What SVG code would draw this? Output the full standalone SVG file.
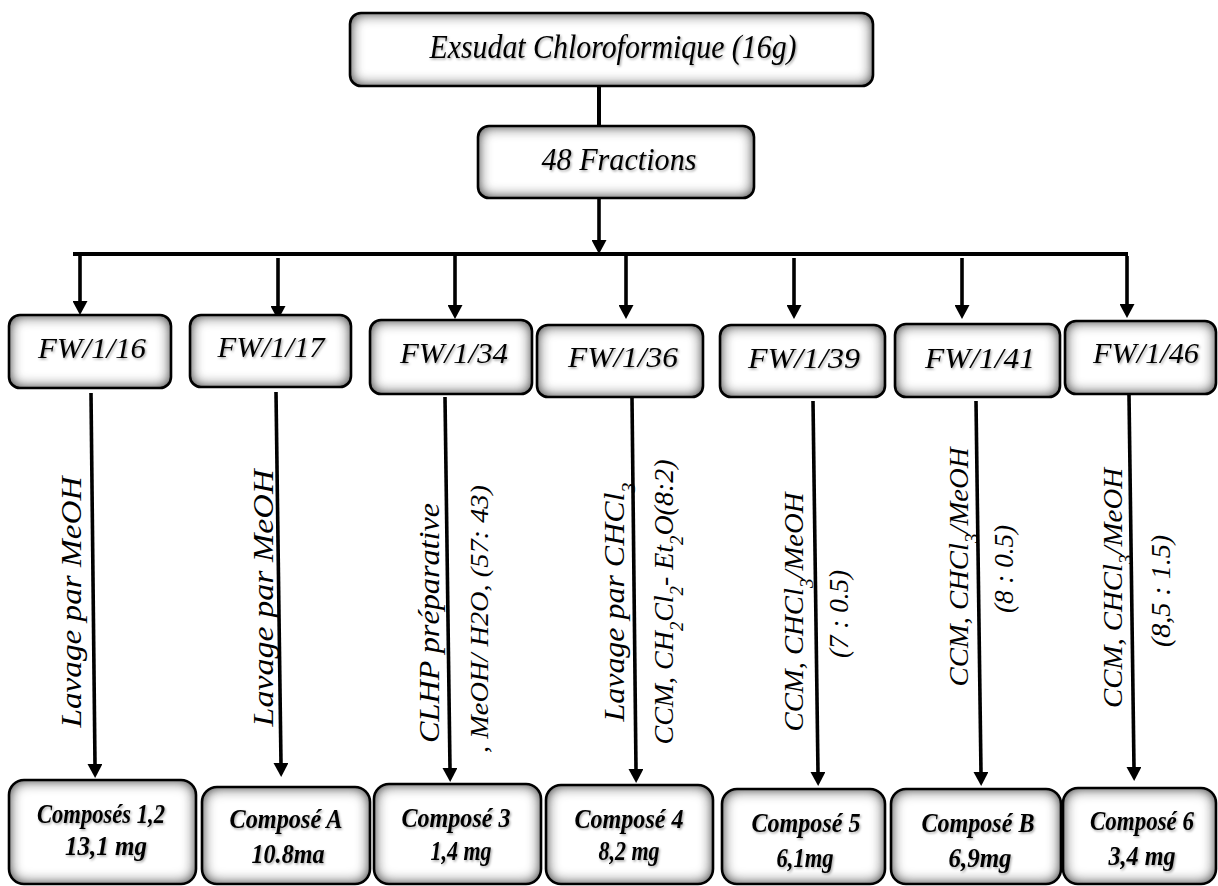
<svg xmlns="http://www.w3.org/2000/svg" width="1218" height="886" viewBox="0 0 1218 886">
<defs>
<filter id="inner" x="-5%" y="-5%" width="110%" height="110%">
<feGaussianBlur in="SourceAlpha" stdDeviation="7" result="b"/>
<feComposite in="SourceAlpha" in2="b" operator="out" result="edge"/>
<feFlood flood-color="#222" result="c"/>
<feComposite in="c" in2="edge" operator="in" result="sh"/>
<feMerge><feMergeNode in="SourceGraphic"/><feMergeNode in="sh"/><feMergeNode in="sh"/></feMerge>
</filter>
<filter id="ts" x="-10%" y="-20%" width="120%" height="150%">
<feDropShadow dx="1.2" dy="1.5" stdDeviation="0.9" flood-color="#000" flood-opacity="0.35"/>
</filter>
<marker id="ah" markerUnits="userSpaceOnUse" markerWidth="14" markerHeight="15" refX="1" refY="7.5" orient="auto">
<path d="M0,0 L14,7.5 L0,15 z" fill="#000"/>
</marker>
<style>
.fill{fill:#fff;stroke:none;filter:url(#inner)}
.out{fill:none;stroke:#000;stroke-width:2.6}
.t{font-family:"Liberation Serif","DejaVu Serif",serif;font-style:italic;fill:#000;text-anchor:middle;filter:url(#ts)}
.b{font-family:"Liberation Serif","DejaVu Serif",serif;font-style:italic;font-weight:bold;font-size:28px;fill:#000;text-anchor:middle;filter:url(#ts)}
.ln{stroke:#000;stroke-width:4;fill:none}
.ar{stroke:#000;stroke-width:3.6;fill:none;marker-end:url(#ah)}
.v{font-family:"Liberation Serif","DejaVu Serif",serif;font-style:italic;fill:#000;text-anchor:middle}
</style>
</defs>
<rect width="1218" height="886" fill="#fff"/>

<g id="connectors">
<line class="ln" x1="599" y1="86" x2="599" y2="126"/>
<line class="ar" x1="599" y1="198" x2="599" y2="241"/>
<line class="ln" x1="73" y1="254" x2="1128" y2="254"/>
<line class="ar" x1="80" y1="256" x2="80" y2="302"/>
<line class="ar" x1="278" y1="258" x2="278" y2="307"/>
<line class="ar" x1="455" y1="256" x2="455" y2="306"/>
<line class="ar" x1="626" y1="256" x2="626" y2="306"/>
<line class="ar" x1="794" y1="258" x2="794" y2="306"/>
<line class="ar" x1="962" y1="258" x2="962" y2="306"/>
<line class="ar" x1="1127" y1="256" x2="1127" y2="305"/>
<line class="ar" x1="91" y1="393" x2="95" y2="765"/>
<line class="ar" x1="276" y1="392" x2="281" y2="764"/>
<line class="ar" x1="445" y1="397" x2="450" y2="769"/>
<line class="ar" x1="632" y1="398" x2="636" y2="770"/>
<line class="ar" x1="813" y1="401" x2="818" y2="773"/>
<line class="ar" x1="976" y1="401" x2="981" y2="773"/>
<line class="ar" x1="1129" y1="395" x2="1134" y2="768"/>
</g>

<g id="n-exsudat">
<rect class="fill" x="350" y="13" width="523" height="73" rx="11"/>
<rect class="out" x="350" y="13" width="523" height="73" rx="11"/>
<text class="t" x="613" y="58" font-size="34" textLength="367" lengthAdjust="spacingAndGlyphs">Exsudat Chloroformique (16g)</text>
</g>
<g id="n-fractions">
<rect class="fill" x="478" y="126" width="276" height="72" rx="11"/>
<rect class="out" x="478" y="126" width="276" height="72" rx="11"/>
<text class="t" x="619" y="170" font-size="31" textLength="155" lengthAdjust="spacingAndGlyphs">48 Fractions</text>
</g>

<g id="n-fw16">
<rect class="fill" x="9" y="315" width="162" height="73" rx="11"/>
<rect class="out" x="9" y="315" width="162" height="73" rx="11"/>
<text class="t" x="92" y="358" font-size="30" textLength="108" lengthAdjust="spacingAndGlyphs">FW/1/16</text>
</g>
<g id="n-fw17">
<rect class="fill" x="190" y="315" width="161" height="72" rx="11"/>
<rect class="out" x="190" y="315" width="161" height="72" rx="11"/>
<text class="t" x="271" y="357" font-size="30" textLength="107" lengthAdjust="spacingAndGlyphs">FW/1/17</text>
</g>
<g id="n-fw34">
<rect class="fill" x="370" y="320" width="162" height="74" rx="11"/>
<rect class="out" x="370" y="320" width="162" height="74" rx="11"/>
<text class="t" x="454" y="363" font-size="30" textLength="108" lengthAdjust="spacingAndGlyphs">FW/1/34</text>
</g>
<g id="n-fw36">
<rect class="fill" x="537" y="325" width="166" height="72" rx="11"/>
<rect class="out" x="537" y="325" width="166" height="72" rx="11"/>
<text class="t" x="623" y="367" font-size="30" textLength="110" lengthAdjust="spacingAndGlyphs">FW/1/36</text>
</g>
<g id="n-fw39">
<rect class="fill" x="720" y="325" width="165" height="72" rx="11"/>
<rect class="out" x="720" y="325" width="165" height="72" rx="11"/>
<text class="t" x="804" y="368" font-size="30" textLength="112" lengthAdjust="spacingAndGlyphs">FW/1/39</text>
</g>
<g id="n-fw41">
<rect class="fill" x="895" y="324" width="165" height="73" rx="11"/>
<rect class="out" x="895" y="324" width="165" height="73" rx="11"/>
<text class="t" x="980" y="368" font-size="30" textLength="110" lengthAdjust="spacingAndGlyphs">FW/1/41</text>
</g>
<g id="n-fw46">
<rect class="fill" x="1065" y="321" width="151" height="73" rx="11"/>
<rect class="out" x="1065" y="321" width="151" height="73" rx="11"/>
<text class="t" x="1146" y="363" font-size="30" textLength="106" lengthAdjust="spacingAndGlyphs">FW/1/46</text>
</g>

<g id="labels">
<text class="v" transform="translate(81,602) rotate(-90)" font-size="30" textLength="251" lengthAdjust="spacingAndGlyphs">Lavage par MeOH</text>
<text class="v" transform="translate(273,598) rotate(-90)" font-size="30" textLength="257" lengthAdjust="spacingAndGlyphs">Lavage par MeOH</text>
<text class="v" transform="translate(439,623) rotate(-90)" font-size="30" textLength="240" lengthAdjust="spacingAndGlyphs">CLHP préparative</text>
<text class="v" transform="translate(488,619) rotate(-90)" font-size="26" textLength="268" lengthAdjust="spacingAndGlyphs">, MeOH/ H2O, (57: 43)</text>
<text class="v" transform="translate(624,602) rotate(-90)" font-size="30" textLength="239" lengthAdjust="spacingAndGlyphs">Lavage par CHCl<tspan font-size="19" baseline-shift="sub">3</tspan></text>
<text class="v" transform="translate(673,602) rotate(-90)" font-size="27" textLength="285" lengthAdjust="spacingAndGlyphs">CCM, CH<tspan font-size="18" baseline-shift="sub">2</tspan>Cl<tspan font-size="18" baseline-shift="sub">2</tspan>- Et<tspan font-size="18" baseline-shift="sub">2</tspan>O(8:2)</text>
<text class="v" transform="translate(803,612) rotate(-90)" font-size="27" textLength="239" lengthAdjust="spacingAndGlyphs">CCM, CHCl<tspan font-size="18" baseline-shift="sub">3</tspan>/MeOH</text>
<text class="v" transform="translate(848,614) rotate(-90)" font-size="27" textLength="88" lengthAdjust="spacingAndGlyphs">(7 : 0.5)</text>
<text class="v" transform="translate(968,567) rotate(-90)" font-size="27" textLength="239" lengthAdjust="spacingAndGlyphs">CCM, CHCl<tspan font-size="18" baseline-shift="sub">3</tspan>/MeOH</text>
<text class="v" transform="translate(1013,569) rotate(-90)" font-size="27" textLength="88" lengthAdjust="spacingAndGlyphs">(8 : 0.5)</text>
<text class="v" transform="translate(1122,588) rotate(-90)" font-size="27" textLength="240" lengthAdjust="spacingAndGlyphs">CCM, CHCl<tspan font-size="18" baseline-shift="sub">3</tspan>/MeOH</text>
<text class="v" transform="translate(1170,591) rotate(-90)" font-size="27" textLength="112" lengthAdjust="spacingAndGlyphs">(8,5 : 1.5)</text>
</g>

<g id="n-c12">
<rect class="fill" x="9" y="780" width="187" height="104" rx="15"/>
<rect class="out" x="9" y="780" width="187" height="104" rx="15"/>
<text class="b" x="101" y="823" textLength="128" lengthAdjust="spacingAndGlyphs">Composés 1,2</text>
<text class="b" x="106" y="855" textLength="82" lengthAdjust="spacingAndGlyphs">13,1 mg</text>
</g>
<g id="n-cA">
<rect class="fill" x="202" y="787" width="168" height="97" rx="15"/>
<rect class="out" x="202" y="787" width="168" height="97" rx="15"/>
<text class="b" x="286" y="828" textLength="113" lengthAdjust="spacingAndGlyphs">Composé A</text>
<text class="b" x="288" y="863" textLength="73" lengthAdjust="spacingAndGlyphs">10.8ma</text>
</g>
<g id="n-c3">
<rect class="fill" x="374" y="784" width="167" height="100" rx="15"/>
<rect class="out" x="374" y="784" width="167" height="100" rx="15"/>
<text class="b" x="456" y="827" textLength="109" lengthAdjust="spacingAndGlyphs">Composé 3</text>
<text class="b" x="461" y="860" textLength="61" lengthAdjust="spacingAndGlyphs">1,4 mg</text>
</g>
<g id="n-c4">
<rect class="fill" x="546" y="785" width="167" height="99" rx="15"/>
<rect class="out" x="546" y="785" width="167" height="99" rx="15"/>
<text class="b" x="629" y="828" textLength="109" lengthAdjust="spacingAndGlyphs">Composé 4</text>
<text class="b" x="629" y="860" textLength="61" lengthAdjust="spacingAndGlyphs">8,2 mg</text>
</g>
<g id="n-c5">
<rect class="fill" x="722" y="789" width="163" height="95" rx="15"/>
<rect class="out" x="722" y="789" width="163" height="95" rx="15"/>
<text class="b" x="806" y="832" textLength="109" lengthAdjust="spacingAndGlyphs">Composé 5</text>
<text class="b" x="805" y="867" textLength="57" lengthAdjust="spacingAndGlyphs">6,1mg</text>
</g>
<g id="n-cB">
<rect class="fill" x="891" y="789" width="170" height="95" rx="15"/>
<rect class="out" x="891" y="789" width="170" height="95" rx="15"/>
<text class="b" x="978" y="832" textLength="113" lengthAdjust="spacingAndGlyphs">Composé B</text>
<text class="b" x="980" y="867" textLength="63" lengthAdjust="spacingAndGlyphs">6,9mg</text>
</g>
<g id="n-c6">
<rect class="fill" x="1063" y="788" width="153" height="96" rx="15"/>
<rect class="out" x="1063" y="788" width="153" height="96" rx="15"/>
<text class="b" x="1142" y="830" textLength="104" lengthAdjust="spacingAndGlyphs">Composé 6</text>
<text class="b" x="1142" y="865" textLength="67" lengthAdjust="spacingAndGlyphs">3,4 mg</text>
</g>
</svg>
